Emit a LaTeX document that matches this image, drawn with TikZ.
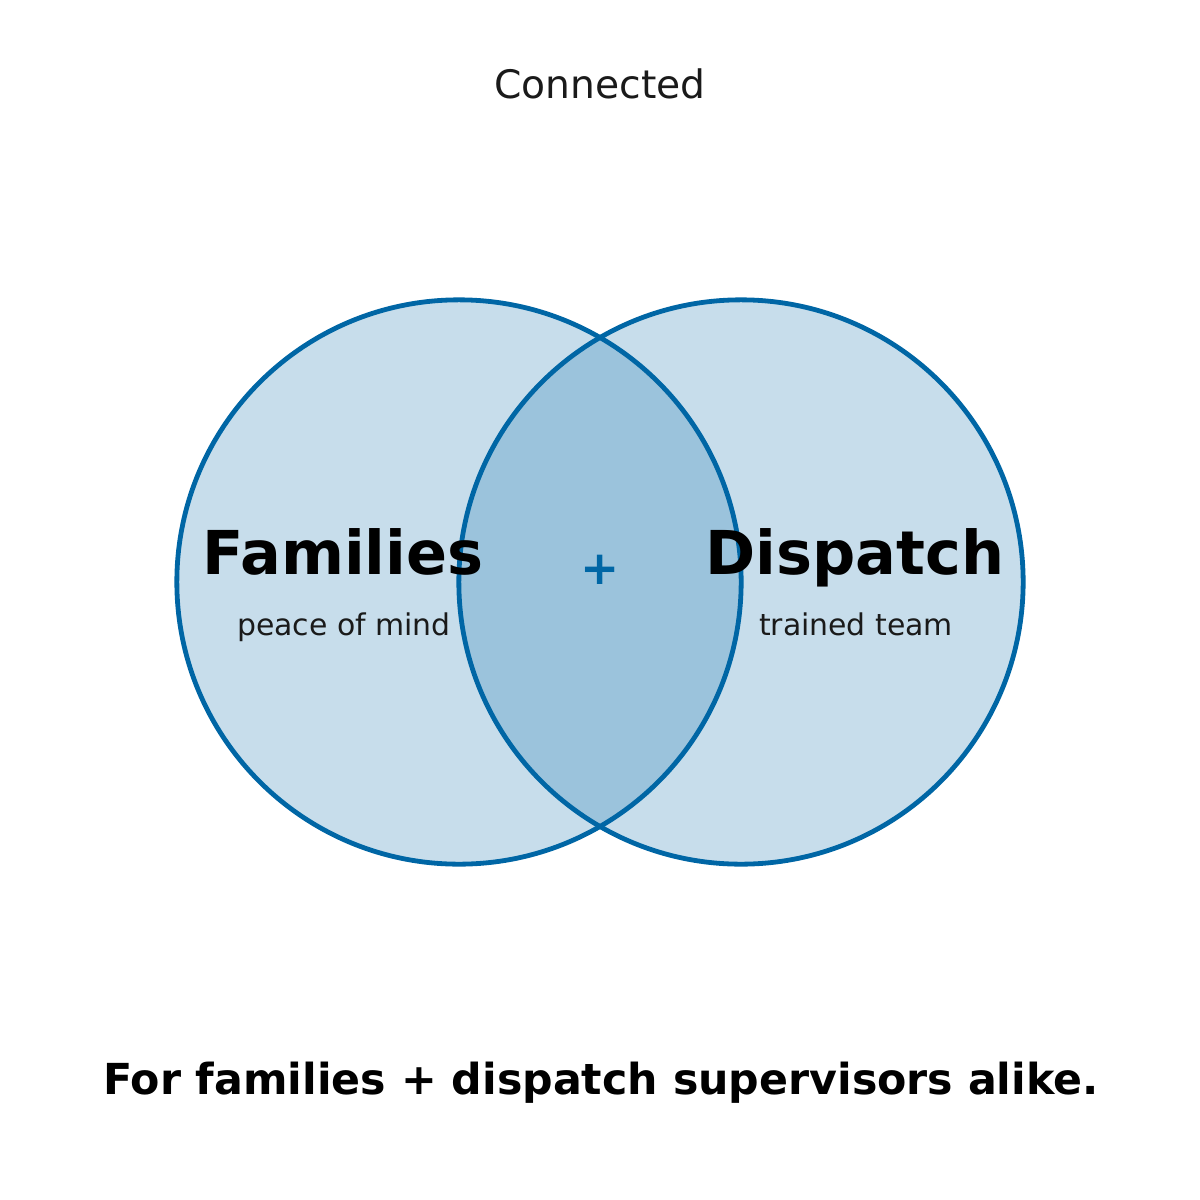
\documentclass[tikz,border=0pt]{standalone}
\usepackage{fontspec}
\setmainfont{DejaVu Sans}
\usepackage{xcolor}
\definecolor{vennblue}{RGB}{0,102,165}
\definecolor{inkgray}{RGB}{26,26,26}
\usetikzlibrary{positioning}

\tikzset{
  vennset/.style={circle,draw=vennblue,line width=0.048cm,fill=vennblue,
    fill opacity=0.22,draw opacity=1,minimum size=5.64cm,inner sep=0pt},
  setname/.style={anchor=base,font=\fontsize{17.2}{20}\selectfont\bfseries,text=black},
  setnote/.style={anchor=base,font=\fontsize{8.5}{10}\selectfont,text=inkgray},
}

\begin{document}
\begin{tikzpicture}[x=0.01cm,y=-0.01cm]
  %% canvas
  \useasboundingbox (0,0) rectangle (1200,1200);

  %% title
  \node[anchor=base,font=\fontsize{11.15}{13}\selectfont,text=inkgray] (title) at (600,98) {Connected};

  %% the two sets
  \node[vennset] (families) at (459,582) {};
  \node[vennset] (dispatch) at (741,582) {};

  %% set labels
  \node[setname] (famname) at (343,574) {Families};
  \node[setnote] (famnote) at (344,635) {peace of mind};
  \node[setname] (dispname) at (855,574) {Dispatch};
  \node[setnote] (dispnote) at (856,635) {trained team};

  %% overlap
  \node[font=\fontsize{13.3}{15}\selectfont\bfseries,text=vennblue,inner sep=0pt] (plus) at (600,570) {+};

  %% tagline
  \node[anchor=base,font=\fontsize{12.15}{14}\selectfont\bfseries,text=black] (tagline) at (601,1094)
    {For families + dispatch supervisors alike.};
\end{tikzpicture}
\end{document}
